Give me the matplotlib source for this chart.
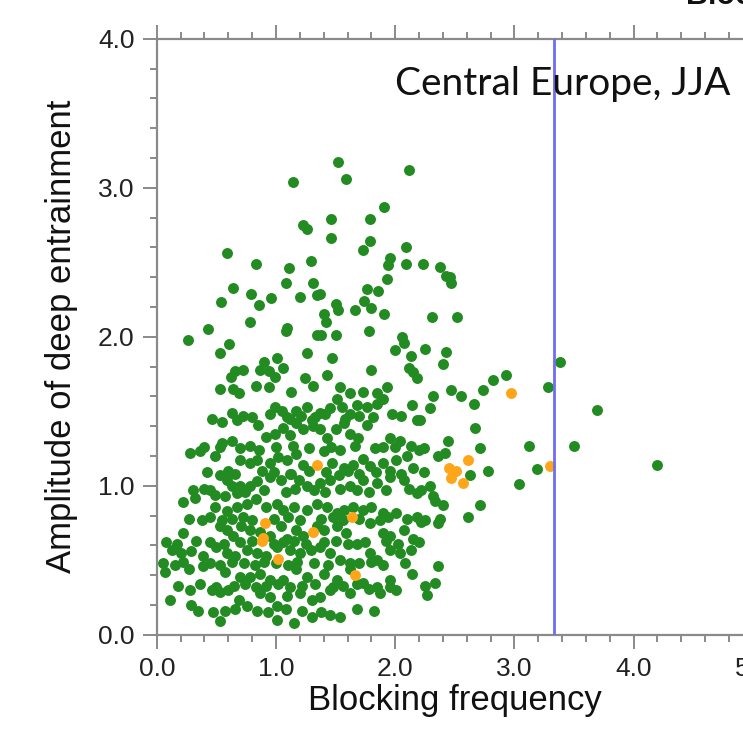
import matplotlib
matplotlib.use("Agg")
import matplotlib.pyplot as plt
from matplotlib.ticker import MultipleLocator, FormatStrFormatter

plt.rcParams['font.family'] = ['Liberation Sans', 'DejaVu Sans']

# blocking frequency vs amplitude of deep entrainment (green: all, orange: highlighted)
green_x = [1.52, 2.12, 1.14, 1.59, 1.91, 1.23, 1.26, 1.46, 1.79, 1.46, 1.79, 1.73, 2.09, 0.59, 0.83, 1.29,
           1.11, 1.96, 1.94, 2.09, 2.23, 2.38, 2.43, 1.93, 0.64, 1.08, 1.31, 0.79, 0.96, 1.20, 1.34, 1.37,
           1.76, 1.86, 0.54, 0.86, 1.50, 1.52, 1.66, 1.74, 1.80, 1.91, 2.31, 1.40, 1.42, 0.43, 0.78, 1.09,
           1.08, 1.78, 0.26, 0.61, 0.53, 1.34, 1.38, 1.50, 2.06, 2.07, 2.00, 2.25, 2.43, 2.40, 1.26, 1.47,
           1.01, 0.90, 0.87, 0.94, 0.99, 1.06, 0.66, 0.62, 0.72, 1.80, 2.13, 2.12, 2.15, 2.18, 1.24, 1.43,
           0.53, 0.64, 0.69, 0.83, 0.94, 1.13, 1.31, 1.54, 1.62, 1.73, 1.85, 1.93, 2.32,
           2.46, 2.47, 2.52, 2.47, 2.55, 2.29, 2.66, 2.21, 2.67, 2.44, 2.24, 2.71, 2.36, 2.42, 3.12, 2.63,
           2.78, 3.19, 3.04, 2.22, 2.29, 2.32, 2.33, 2.40, 2.71, 2.22, 2.36, 2.38, 2.61, 2.36, 2.33, 2.27,
           2.82, 2.93, 2.74, 3.28, 3.38, 3.69, 3.50, 4.20,
           0.46, 0.55, 0.63, 0.67, 0.85, 0.99, 1.05, 1.09, 1.17, 1.26, 1.30, 1.37, 1.45, 1.51, 1.55, 1.62,
           1.68, 1.76, 1.85, 1.90, 2.14, 2.18,
           0.28, 0.36, 0.55, 0.63, 0.92, 0.99, 1.06, 1.12, 1.17, 1.23, 1.31, 1.37, 1.43, 1.50, 1.57, 1.62,
           1.69, 1.76, 1.90, 1.96, 2.04, 2.13,
           0.49, 0.53, 0.70, 0.78, 0.84, 0.95, 1.02, 1.09, 1.17, 1.23, 1.40, 1.47, 1.57, 1.65, 1.73, 1.79,
           1.90, 2.01, 2.10, 2.15,
           0.45, 0.49, 0.53, 0.57, 0.59, 0.63, 0.67, 0.70, 0.78, 0.84, 0.95, 1.04, 1.12, 1.19, 1.26, 1.37,
           1.45, 1.62, 1.73, 1.85, 1.96, 2.07, 2.18,
           0.22, 0.32, 0.49, 0.59, 0.67, 0.76, 0.83, 0.92, 1.01, 1.06, 1.15, 1.26, 1.34, 1.43, 1.51, 1.57,
           1.65, 1.73, 1.80, 1.90, 2.01, 2.18,
           0.22, 0.53, 0.59, 0.64, 0.71, 0.78, 0.87, 0.95, 1.04, 1.09, 1.17, 1.23, 1.34, 1.40, 1.51, 1.59,
           1.68, 1.79, 1.90, 1.96, 2.07, 2.15,
           0.13, 0.20, 0.29, 0.39, 0.50, 0.59, 0.66, 0.76, 0.84, 0.92, 1.01, 1.12, 1.20, 1.29, 1.37, 1.45,
           1.54, 1.62, 1.79, 1.85, 1.96, 2.04, 2.13,
           0.07, 0.27, 0.39, 0.57, 0.70, 0.78, 0.87, 0.95, 1.06, 1.17, 1.26, 1.40, 1.51, 1.62, 1.73, 1.96,
           2.14,
           0.11, 0.28, 0.29, 0.46, 0.53, 0.60, 0.69, 0.76, 0.87, 0.95, 1.01, 1.09, 1.20, 1.30, 1.37, 1.45,
           1.62, 1.78, 1.87, 1.96, 2.01,
           0.53, 0.57, 1.01, 1.15, 1.30, 1.45, 1.54,
           # denser core, read between the rows above
           0.72, 0.80, 0.95, 1.12, 1.21, 1.33, 1.41, 1.58, 1.70, 1.81, 1.97, 2.05,
           0.40, 0.70, 0.78, 0.86, 1.00, 1.14, 1.28, 1.46, 1.54, 1.66, 1.83, 2.00, 2.20,
           0.42, 0.60, 0.66, 0.88, 0.98, 1.13, 1.28, 1.42, 1.53, 1.60, 1.70, 1.84, 1.96, 2.05, 2.24,
           0.30, 0.40, 0.74, 0.90, 1.08, 1.16, 1.32, 1.41, 1.54, 1.68, 1.78, 1.92, 2.12,
           0.27, 0.38, 0.45, 0.55, 0.63, 0.72, 0.80, 0.98, 1.10, 1.20, 1.38, 1.48, 1.56, 1.70, 1.87, 1.94,
           2.10, 2.25,
           0.08, 0.17, 0.33, 0.45, 0.56, 0.70, 0.80, 0.98, 1.06, 1.15, 1.25, 1.40, 1.50, 1.60, 1.75, 1.92,
           2.02, 2.20,
           0.05, 0.15, 0.22, 0.45, 0.53, 0.63, 0.73, 0.82, 0.90, 1.00, 1.10, 1.18, 1.32, 1.44, 1.70, 1.80,
           1.90, 2.08,
           0.18, 0.36, 0.50, 0.65, 0.74, 0.83, 0.92, 1.02, 1.12, 1.22, 1.33, 1.48, 1.56, 1.68, 1.85, 2.25,
           0.35, 0.47, 0.66, 0.84, 0.93, 1.08, 1.22, 1.38, 1.68, 1.82]
green_y = [3.17, 3.12, 3.04, 3.06, 2.87, 2.75, 2.72, 2.79, 2.79, 2.66, 2.64, 2.58, 2.60, 2.56, 2.49, 2.51,
           2.46, 2.53, 2.48, 2.49, 2.49, 2.47, 2.41, 2.39, 2.33, 2.36, 2.36, 2.29, 2.26, 2.27, 2.28, 2.29,
           2.32, 2.31, 2.23, 2.21, 2.22, 2.18, 2.18, 2.24, 2.19, 2.15, 2.13, 2.15, 2.10, 2.05, 2.10, 2.06,
           2.04, 2.04, 1.98, 1.95, 1.89, 2.01, 2.01, 2.01, 2.00, 1.96, 1.91, 1.92, 1.90, 1.82, 1.89, 1.86,
           1.86, 1.83, 1.78, 1.77, 1.73, 1.79, 1.77, 1.73, 1.78, 1.78, 1.87, 1.79, 1.76, 1.72, 1.72, 1.74,
           1.65, 1.65, 1.62, 1.67, 1.66, 1.63, 1.67, 1.66, 1.62, 1.63, 1.62, 1.66, 1.60,
           2.40, 2.36, 2.13, 1.64, 1.60, 1.52, 1.55, 1.44, 1.39, 1.30, 1.25, 1.25, 1.20, 1.22, 1.27, 1.07,
           1.10, 1.11, 1.01, 0.97, 1.00, 0.93, 0.90, 0.87, 0.87, 0.76, 0.75, 0.78, 0.79, 0.46, 0.35, 0.27,
           1.71, 1.74, 1.64, 1.66, 1.83, 1.51, 1.27, 1.14,
           1.45, 1.43, 1.49, 1.44, 1.41, 1.53, 1.50, 1.46, 1.50, 1.53, 1.44, 1.49, 1.52, 1.58, 1.53, 1.48,
           1.54, 1.53, 1.55, 1.58, 1.54, 1.44,
           1.22, 1.23, 1.29, 1.30, 1.33, 1.35, 1.39, 1.34, 1.42, 1.38, 1.40, 1.38, 1.32, 1.38, 1.42, 1.35,
           1.32, 1.41, 1.26, 1.32, 1.30, 1.27,
           1.20, 1.26, 1.17, 1.15, 1.17, 1.15, 1.19, 1.17, 1.21, 1.14, 1.23, 1.15, 1.12, 1.14, 1.18, 1.13,
           1.15, 1.17, 1.20, 1.12,
           0.97, 0.94, 1.07, 0.93, 1.04, 1.00, 0.95, 1.00, 1.00, 1.03, 1.06, 1.04, 1.08, 1.04, 1.00, 1.02,
           1.04, 1.00, 1.04, 1.02, 1.06, 1.04, 0.95,
           0.89, 0.92, 0.86, 0.83, 0.86, 0.88, 0.91, 0.86, 0.88, 0.84, 0.86, 0.84, 0.88, 0.86, 0.82, 0.84,
           0.86, 0.84, 0.86, 0.82, 0.82, 0.79,
           0.68, 0.73, 0.70, 0.66, 0.73, 0.70, 0.69, 0.66, 0.73, 0.64, 0.70, 0.66, 0.73, 0.70, 0.73, 0.68,
           0.61, 0.75, 0.68, 0.66, 0.70, 0.64,
           0.57, 0.55, 0.56, 0.53, 0.59, 0.55, 0.53, 0.57, 0.55, 0.53, 0.59, 0.57, 0.55, 0.57, 0.59, 0.55,
           0.50, 0.48, 0.55, 0.50, 0.57, 0.55, 0.57,
           0.42, 0.44, 0.46, 0.42, 0.39, 0.39, 0.41, 0.37, 0.37, 0.44, 0.39, 0.41, 0.37, 0.44, 0.35, 0.37,
           0.41,
           0.23, 0.30, 0.20, 0.30, 0.29, 0.30, 0.23, 0.19, 0.28, 0.25, 0.19, 0.26, 0.28, 0.23, 0.25, 0.30,
           0.28, 0.31, 0.28, 0.32, 0.30,
           0.09, 0.16, 0.10, 0.08, 0.12, 0.13, 0.12,
           1.47, 1.46, 1.48, 1.45, 1.47, 1.46, 1.48, 1.45, 1.47, 1.46, 1.48, 1.47,
           1.26, 1.25, 1.27, 1.24, 1.26, 1.27, 1.25, 1.26, 1.24, 1.27, 1.25, 1.26, 1.24,
           1.09, 1.10, 1.08, 1.10, 1.09, 1.08, 1.10, 1.09, 1.07, 1.10, 1.08, 1.09, 1.10, 1.08, 1.09,
           0.97, 0.98, 0.96, 0.97, 0.96, 0.98, 0.97, 0.96, 0.98, 0.97, 0.96, 0.97, 0.98,
           0.78, 0.77, 0.79, 0.77, 0.78, 0.79, 0.77, 0.78, 0.79, 0.77, 0.78, 0.79, 0.77, 0.78, 0.77, 0.79,
           0.78, 0.77,
           0.62, 0.61, 0.63, 0.62, 0.61, 0.62, 0.63, 0.61, 0.62, 0.63, 0.61, 0.62, 0.63, 0.61, 0.62, 0.63,
           0.61, 0.62,
           0.48, 0.47, 0.49, 0.48, 0.47, 0.49, 0.48, 0.47, 0.49, 0.48, 0.47, 0.49, 0.48, 0.47, 0.48, 0.49,
           0.47, 0.48,
           0.33, 0.34, 0.32, 0.33, 0.34, 0.32, 0.33, 0.34, 0.32, 0.33, 0.34, 0.32, 0.33, 0.34, 0.32, 0.33,
           0.16, 0.15, 0.17, 0.16, 0.15, 0.17, 0.16, 0.15, 0.17, 0.16]
orange_x = [2.97, 2.61, 2.45, 2.51, 2.47, 2.57, 3.30, 1.34, 0.91, 0.89, 0.88, 1.31, 1.02, 1.64, 1.66]
orange_y = [1.62, 1.17, 1.12, 1.10, 1.05, 1.02, 1.13, 1.14, 0.75, 0.65, 0.63, 0.69, 0.51, 0.79, 0.40]
threshold = 3.33

fig = plt.figure(figsize=(7.43, 7.45), dpi=100)
ax = fig.add_axes([0.211, 0.148, 0.8022, 0.80])

ax.scatter(green_x, green_y, s=62, color='#228B22', linewidths=0, zorder=3)
ax.scatter(orange_x, orange_y, s=62, color='#FFA51A', linewidths=0, zorder=4)
ax.axvline(threshold, color='#6E6EF0', lw=2, zorder=5)

ax.set_xlim(0, 5)
ax.set_ylim(0, 4)
ax.xaxis.set_major_locator(MultipleLocator(1.0))
ax.xaxis.set_minor_locator(MultipleLocator(0.2))
ax.yaxis.set_major_locator(MultipleLocator(1.0))
ax.yaxis.set_minor_locator(MultipleLocator(0.2))
ax.xaxis.set_major_formatter(FormatStrFormatter('%.1f'))
ax.yaxis.set_major_formatter(FormatStrFormatter('%.1f'))

for s in ax.spines.values():
    s.set_color('#8a8a8a')
    s.set_linewidth(1.6)
ax.tick_params(which='both', direction='out', top=True, right=True, colors='#8a8a8a',
               labelcolor='#222222', labelsize=19, width=1.4)
ax.tick_params(which='major', length=10, pad=6)
ax.tick_params(which='minor', length=5)

ax.set_xlabel('Blocking frequency', fontsize=25, color='#111111', labelpad=2)
ax.set_ylabel('Amplitude of deep entrainment', fontsize=25, color='#111111', labelpad=14)

ax.text(2.0, 3.62, 'Central Europe, JJA', fontsize=28, family='Lato', color='#111111', zorder=6)
fig.text(686 / 743, 1 - 4 / 745, 'Blocking', fontsize=22, fontweight='bold', color='#111111',
         va='baseline')

fig.savefig('out.png', dpi=100)
